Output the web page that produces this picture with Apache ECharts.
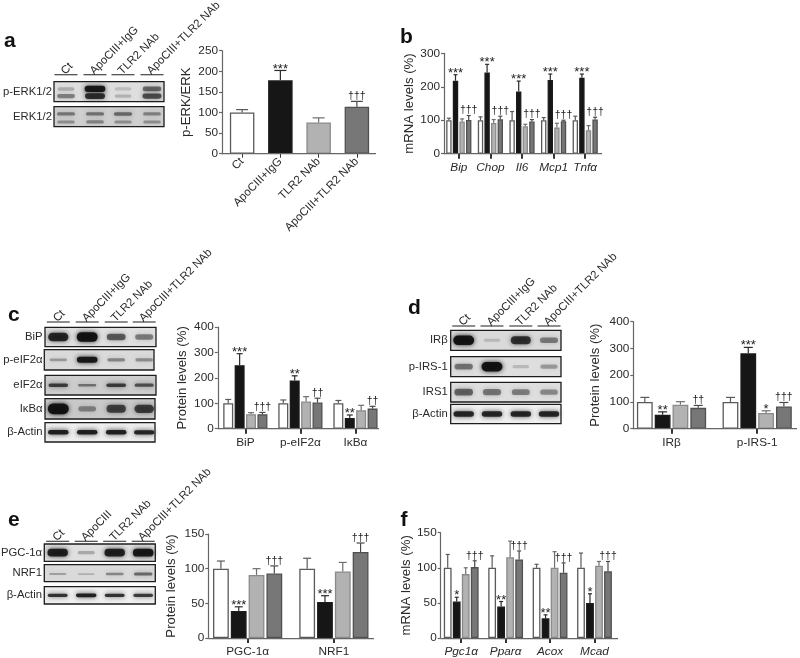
<!DOCTYPE html>
<html><head><meta charset="utf-8">
<style>html,body{margin:0;padding:0;background:#fff}#c{width:800px;height:658px;filter:blur(0.35px)}</style>
<script src="https://cdn.jsdelivr.net/npm/echarts@6/dist/echarts.min.js"></script>
</head><body><div id="c"></div>
<script>
// ---------- data ----------
const catA = ['Ct','ApoCIII+IgG','TLR2 NAb','ApoCIII+TLR2 NAb'];
const valA = [[100,178,76,114]];
const topA = [[107,202,87,127]];
const markA = [['','***','','†††']];

const catB = ['Bip','Chop','Il6','Mcp1','Tnfα'];
const valB = [[100,100,100,100,100],[218,243,186,220,227],[96,92,82,78,70],[101,103,96,97,102]];
const topB = [[106,110,126,108,112],[236,267,217,238,238],[104,102,88,91,84],[114,112,102,100,109]];
const markB = [['','','','',''],['***','***','***','***','***'],['','','','',''],['†††','†††','†††','†††','†††']];

const catC = ['BiP','p-eIF2α','IκBα'];
const valC = [[100,100,100],[250,190,42],[57,107,73],[57,103,79]];
const topC = [[115,113,111],[295,208,54],[63,126,92],[64,120,88]];
const markC = [['','',''],['***','**','**'],['','',''],['†††','††','††']];

const catD = ['IRβ','p-IRS-1'];
const valD = [[100,100],[52,282],[90,59],[78,83]];
const topD = [[117,117],[63,304],[101,67],[87,98]];
const markD = [['',''],['**','***'],['','*'],['††','†††']];

const catE = ['PGC-1α','NRF1'];
const valE = [[100,100],[39,52],[91,96],[93,124]];
const topE = [[111,115],[45,61],[100,109],[104,137]];
const markE = [['',''],['***','***'],['',''],['†††','†††']];

const catF = ['Pgc1α','Pparα','Acox','Mcad'];
const valF = [[100,100,100,100],[52,45,28,50],[91,115,100,103],[101,112,93,95]];
const topF = [[119,117,105,121],[58,52,33,63],[100,138,123,109],[110,124,107,109]];
const markF = [['','','',''],['*','**','**','*'],['','','',''],['†††','†††','†††','†††']];

const lanesIgG = ['Ct','ApoCIII+IgG','TLR2 NAb','ApoCIII+TLR2 NAb'];
const lanesE = ['Ct','ApoCIII','TLR2 NAb','ApoCIII+TLR2 NAb'];
// blot band darkness per lane
const bandsPErk = [[.12,.95,.04,.5],[.35,.8,.1,.62]];
const bandsErk = [[.38,.4,.45,.32],[.25,.3,.25,.25]];
const bandsBip = [[.85,1,.55,.38]];
const bandsPeif = [[.22,.95,.32,.28]];
const bandsEif = [[.72,.42,.72,.6]];
const bandsIkb = [[1,.3,.66,.7]];
const bandsActC = [[.92,.92,.92,.88]];
const bandsIrb = [[1,.05,.78,.38]];
const bandsPirs = [[.42,1,.06,.22]];
const bandsIrs = [[.5,.4,.36,.3]];
const bandsActD = [[.88,.88,.88,.88]];
const bandsPgc = [[.9,.15,.9,.95]];
const bandsNrf = [[.18,.1,.32,.48]];
const bandsActE = [[.8,.92,.8,.76]];

// ---------- styles / layout ----------
const FONT = '"Liberation Sans", Arial, sans-serif';
const TXT = '#2a2a2a';
const fills = ['#ffffff','#161616','#b2b2b2','#777777'];
const strokes = ['#5a5a5a','#1c1c1c','#8a8a8a','#505050'];
const errs = ['#5a5a5a','#2a2a2a','#6e6e6e','#4a4a4a'];

const panels = [
 {id:'a',cats:catA,val:valA,top:topA,mark:markA,max:250,step:50,gl:223,gr:376,axL:222,axR:376,t:50.7,b:153.7,
  spacing:0,w:24.5,cap:12,name:'p-ERK/ERK',gap:29,rot:45,tickW:1},
 {id:'b',cats:catB,val:valB,top:topB,mark:markB,max:300,step:100,gl:443,gr:601,axL:444,axR:602,t:53.3,b:153.7,
  spacing:6.6,w:5.4,cap:4,name:'mRNA levels (%)',gap:28,italic:true,tickW:2},
 {id:'c',cats:catC,val:valC,top:topC,mark:markC,max:400,step:100,gl:217.8,gr:383,axL:217.8,axR:379,t:327,b:428.7,
  spacing:11.4,w:10,cap:6,name:'Protein levels (%)',gap:29,tickW:2},
 {id:'d',cats:catD,val:valD,top:topD,mark:markD,max:400,step:100,gl:628.7,gr:800.8,axL:633.3,axR:797,t:321.7,b:428.7,
  spacing:17.8,w:15.8,cap:9,name:'Protein levels (%)',gap:31,tickW:2},
 {id:'e',cats:catE,val:valE,top:topE,mark:markE,max:150,step:50,gl:204.5,gr:377,axL:208.3,axR:374,t:534,b:638.7,
  spacing:17.8,w:15.8,cap:8,name:'Protein levels (%)',gap:30,tickW:2},
 {id:'f',cats:catF,val:valF,top:topF,mark:markF,max:150,step:50,gl:439,gr:616.7,axL:440.7,axR:618,t:532.7,b:638.7,
  spacing:9,w:7.8,cap:4,name:'mRNA levels (%)',gap:27,italic:true,tickW:2}
];

const blots = [
 {lanes:lanesIgG,lineY:74.7,cx:[66,95,123,152],half:11.5,rows:[
  {label:'p-ERK1/2',x0:54,x1:164,y0:81.7,y1:101.7,bg:'#dedede',bands:bandsPErk,ys:[.36,.72],th:1.3},
  {label:'ERK1/2',x0:54,x1:164,y0:106.7,y1:126.7,bg:'#cfcfcf',bands:bandsErk,ys:[.36,.76],th:1}],labelX:52},
 {lanes:lanesIgG,lineY:322,cx:[58.3,87.2,116.2,144.2],half:11.5,rows:[
  {label:'BiP',x0:45,x1:156,y0:327.3,y1:346.7,bg:'#e0e0e0',bands:bandsBip,ys:[.5],th:1},
  {label:'p-eIF2α',x0:44.3,x1:154,y0:349.7,y1:370,bg:'#dadada',bands:bandsPeif,ys:[.5],th:.65},
  {label:'eIF2α',x0:45,x1:156,y0:375.3,y1:395,bg:'#cdcdcd',bands:bandsEif,ys:[.5],th:.45},
  {label:'IκBα',x0:45,x1:155,y0:398.7,y1:419,bg:'#c9c9c9',bands:bandsIkb,ys:[.5],th:1.1},
  {label:'β-Actin',x0:45,x1:155,y0:422.7,y1:442,bg:'#eeeeee',bands:bandsActC,ys:[.5],th:.5}],labelX:42.5},
 {lanes:lanesIgG,lineY:326,cx:[463.7,492,520.8,549],half:11.5,rows:[
  {label:'IRβ',x0:450.7,x1:561,y0:330.3,y1:350.3,bg:'#dadada',bands:bandsIrb,ys:[.5],th:1},
  {label:'p-IRS-1',x0:450.7,x1:561,y0:356.7,y1:376.7,bg:'#dedede',bands:bandsPirs,ys:[.5],th:1},
  {label:'IRS1',x0:450.7,x1:561,y0:382.3,y1:402,bg:'#dedede',bands:bandsIrs,ys:[.5],th:1.1},
  {label:'β-Actin',x0:450.7,x1:561,y0:404.3,y1:423.7,bg:'#f0f0f0',bands:bandsActD,ys:[.5],th:.6}],labelX:447.7},
 {lanes:lanesE,lineY:541.3,cx:[57.7,86.2,114.7,143.2],half:11.5,rows:[
  {label:'PGC-1α',x0:44.3,x1:155.3,y0:544,y1:561.3,bg:'#e0e0e0',bands:bandsPgc,ys:[.5],th:.85},
  {label:'NRF1',x0:44.3,x1:155.3,y0:564.7,y1:581.7,bg:'#dadada',bands:bandsNrf,ys:[.55],th:.5},
  {label:'β-Actin',x0:44.3,x1:155.3,y0:586.7,y1:604,bg:'#f0f0f0',bands:bandsActE,ys:[.5],th:.4}],labelX:42}
];

const letters = [['a',4,41],['b',400,37],['c',8,315],['d',408,308],['e',8,520],['f',400.5,520]];

// ---------- build option ----------
const grid=[],xAxis=[],yAxis=[],series=[],graphic=[];

panels.forEach((p,pi)=>{
  grid.push({left:p.gl,width:p.gr-p.gl,top:p.t,height:p.b-p.t,containLabel:false});
  xAxis.push({type:'category',gridIndex:pi,data:p.cats,
    axisLine:{show:false},
    axisTick:{show:true,alignWithLabel:true,length:p.tickW>1?5:4,lineStyle:{color:'#333',width:p.tickW}},
    axisLabel:{color:TXT,fontFamily:FONT,fontSize:p.rot?11.5:11.8,fontStyle:p.italic?'italic':'normal',
      rotate:p.rot||0,margin:p.rot?6:8,interval:0,hideOverlap:false}});
  yAxis.push({type:'value',gridIndex:pi,min:0,max:p.max,interval:p.step,offset:p.gl-p.axL,
    splitLine:{show:false},
    axisLine:{show:true,lineStyle:{color:'#666',width:1.2}},
    axisTick:{show:true,length:3,lineStyle:{color:'#666',width:1.2}},
    axisLabel:{color:TXT,fontFamily:FONT,fontSize:11.8,margin:4},
    name:p.name,nameLocation:'middle',nameGap:p.gap,nameRotate:90,
    nameTextStyle:{color:TXT,fontFamily:FONT,fontSize:13.2}});
  graphic.push({type:'line',z:5,shape:{x1:p.axL,y1:p.b,x2:p.axR,y2:p.b},style:{stroke:'#666',lineWidth:1.3}});

  const single=p.val.length===1;
  p.val.forEach((vals,si)=>{
    const data=single?vals.map((v,i)=>({value:v,itemStyle:{color:fills[i],borderColor:strokes[i],borderWidth:1.3}})):vals;
    series.push({type:'bar',name:p.id+' '+si,xAxisIndex:pi,yAxisIndex:pi,data,
      barWidth:p.w,barGap:single?'0%':((p.spacing-p.w)/p.w*100).toFixed(1)+'%',
      barCategoryGap:single?'30%':undefined,
      itemStyle:single?undefined:{color:fills[si],borderColor:strokes[si],borderWidth:1.3},
      animation:false,silent:true,z:2});
    const marks=p.mark[si], tops=p.top[si];
    series.push({type:'custom',name:p.id+' err '+si,xAxisIndex:pi,yAxisIndex:pi,clip:false,silent:true,z:3,animation:false,
      data:vals.map((v,i)=>[i,v,tops[i]]),encode:{x:0,y:[1,2]},
      renderItem:function(params,api){
        const idx=params.dataIndex;
        const off=single?0:(si-1.5)*p.spacing;
        const a=api.coord([api.value(0),api.value(1)]);
        const b=api.coord([api.value(0),api.value(2)]);
        const x=a[0]+off;
        const col=errs[single?idx:si];
        const ls={stroke:col,lineWidth:1.2,fill:null};
        const kids=[
          {type:'line',shape:{x1:x,y1:a[1],x2:x,y2:b[1]},style:ls},
          {type:'line',shape:{x1:x-p.cap/2,y1:b[1],x2:x+p.cap/2,y2:b[1]},style:ls}];
        const m=marks[idx];
        if(m){
          const star=m[0]==='*';
          kids.push({type:'text',style:{text:m,x:x,y:b[1]+(star?5:0.5),align:'center',verticalAlign:'bottom',
            fill:'#222',fontFamily:FONT,fontSize:star?13:10.5}});
        }
        return {type:'group',children:kids};
      }});
  });
});

blots.forEach(bl=>{
  bl.cx.forEach((cx,i)=>{
    graphic.push({type:'line',shape:{x1:cx-bl.half,y1:bl.lineY,x2:cx+bl.half,y2:bl.lineY},style:{stroke:'#444',lineWidth:1.2}});
    graphic.push({type:'text',x:cx-3,y:bl.lineY-2,rotation:Math.PI/4,
      style:{text:bl.lanes[i],x:0,y:0,align:'left',verticalAlign:'middle',fill:TXT,fontFamily:FONT,fontSize:11.4}});
  });
  bl.rows.forEach(r=>{
    graphic.push({type:'rect',shape:{x:r.x0,y:r.y0,width:r.x1-r.x0,height:r.y1-r.y0},style:{fill:r.bg}});
    const h=r.y1-r.y0;
    r.bands.forEach((row,ri)=>{
      row.forEach((k,li)=>{
        const many=r.bands.length>1;
        const cy=r.y0+h*r.ys[ri];
        const hh=((many?1.2:1.4)+(many?1.2:3.4)*k)*r.th;
        const hw=bl.half*(.84+.2*k)-1.5;
        const c='rgba(14,14,14,'+(0.12+0.82*k).toFixed(2)+')';
        graphic.push({type:'rect',shape:{x:bl.cx[li]-hw,y:cy-hh,width:hw*2,height:hh*2,r:hh},
          style:{fill:c,shadowBlur:5,shadowColor:c}});
      });
    });
    graphic.push({type:'rect',shape:{x:r.x0,y:r.y0,width:r.x1-r.x0,height:h},style:{fill:null,stroke:'#1c1c1c',lineWidth:1.3}});
    graphic.push({type:'text',style:{text:r.label,x:bl.labelX,y:(r.y0+r.y1)/2,align:'right',verticalAlign:'middle',
      fill:TXT,fontFamily:FONT,fontSize:11.3}});
  });
});

letters.forEach(l=>graphic.push({type:'text',style:{text:l[0],x:l[1],y:l[2],align:'left',verticalAlign:'middle',
  fill:'#111',fontFamily:FONT,fontSize:21,fontWeight:'bold'}}));

const chart=echarts.init(document.getElementById('c'),null,{renderer:'canvas',width:800,height:658});
chart.setOption({animation:false,backgroundColor:'#fff',grid,xAxis,yAxis,series,graphic:{elements:graphic}});
</script></body></html>
